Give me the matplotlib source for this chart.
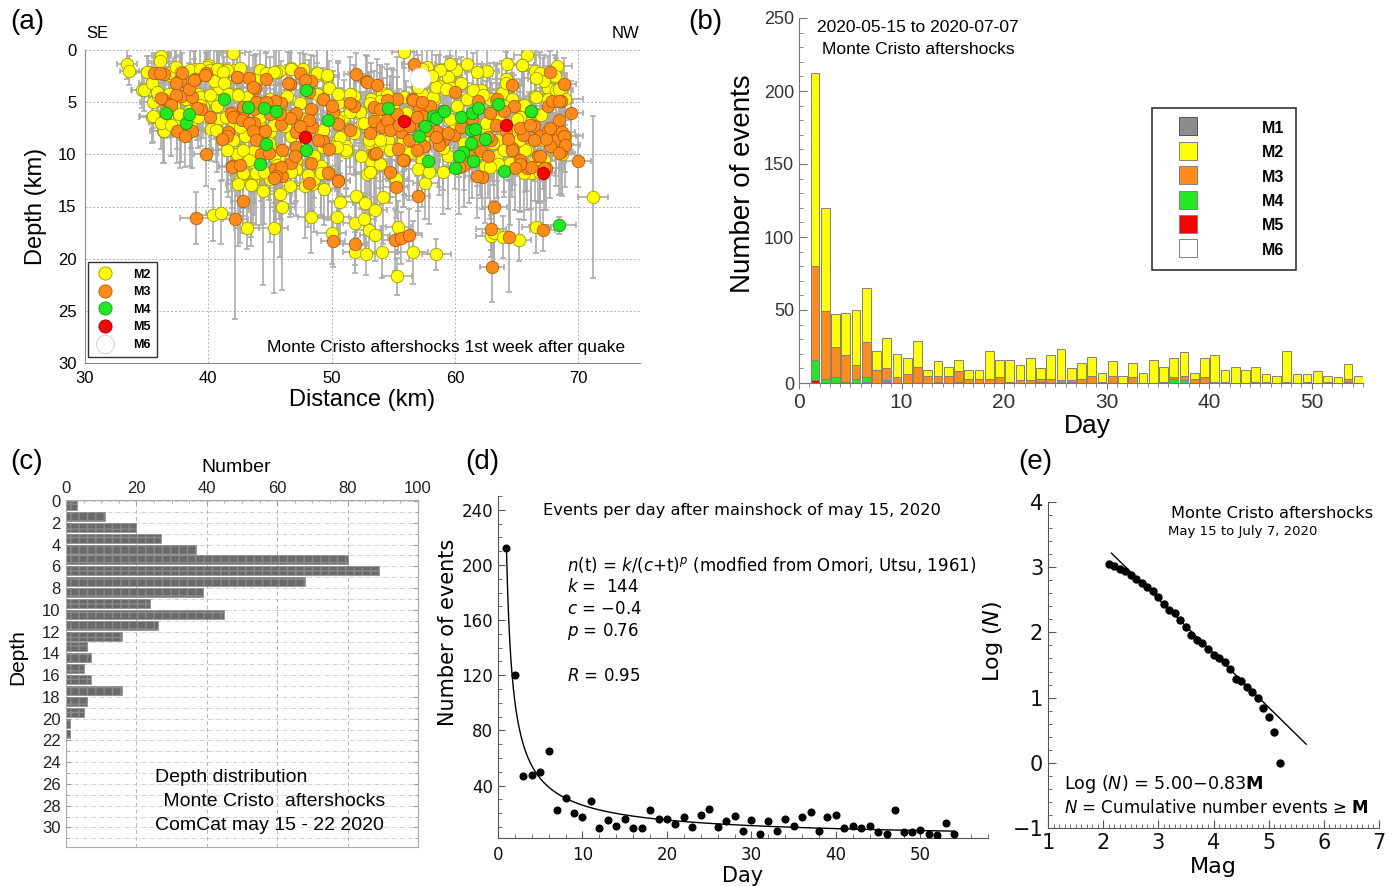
import numpy as np
import matplotlib
matplotlib.use('Agg')
import matplotlib.pyplot as plt
from matplotlib.lines import Line2D
from matplotlib.ticker import MultipleLocator

plt.rcParams['font.family'] = ['Liberation Sans', 'DejaVu Sans']

# ---------------- (a) cross-section: (distance km, depth km, xerr, yerr) ----------------
m2_pts = [
    (33.4, 1.3, 0.8, 1.5), (33.6, 2.0, 0.8, 1.4), (34.6, 3.8, 0.9, 1.8), (35.4, 6.4, 1.0, 2.5),
    (36.2, 0.6, 0.8, 1.2), (42.0, 0.3, 1.0, 1.5), (55.9, 0.2, 1.0, 1.5), (57.7, 1.6, 1.2, 2.0),
    (65.8, 0.5, 1.0, 1.5), (61.0, 1.3, 1.2, 2.5), (60.1, 1.9, 1.0, 3.0), (64.2, 1.3, 1.0, 2.0),
    (68.3, 1.5, 1.2, 2.0), (71.2, 14.1, 1.2, 7.8), (40.4, 15.8, 1.5, 2.5), (41.0, 15.6, 1.2, 3.0),
    (43.1, 17.1, 1.0, 2.0), (45.3, 17.1, 1.2, 6.2), (48.3, 16.0, 1.0, 3.5), (46.0, 15.0, 1.0, 8.0),
    (50.0, 17.5, 1.2, 3.0), (50.4, 16.0, 1.0, 2.5), (50.7, 14.6, 1.0, 4.0), (51.9, 16.6, 1.0, 2.0),
    (52.0, 14.0, 1.2, 4.0), (52.7, 14.7, 1.0, 5.0), (52.6, 16.2, 1.0, 2.5), (53.0, 17.3, 1.0, 2.0),
    (53.5, 17.7, 1.2, 2.5), (53.5, 15.3, 1.0, 3.0), (51.9, 19.4, 1.0, 2.0), (52.8, 19.6, 1.2, 2.0),
    (54.1, 19.4, 1.2, 2.5), (56.6, 19.4, 1.2, 3.0), (55.3, 21.7, 1.2, 1.8), (55.4, 17.0, 1.0, 2.5),
    (58.5, 19.6, 1.2, 1.5), (54.2, 14.1, 1.0, 4.5), (62.9, 17.8, 1.2, 2.0), (63.2, 17.5, 1.0, 3.0),
    (63.9, 17.9, 1.2, 2.0), (65.2, 18.2, 1.0, 2.0), (66.6, 17.0, 1.2, 2.5), (57.6, 12.7, 1.0, 3.5),
    (55.2, 12.4, 1.0, 3.0), (49.4, 13.3, 1.2, 3.5), (48.4, 12.8, 1.0, 3.0), (44.4, 13.5, 1.0, 9.0),
    (43.6, 12.6, 1.2, 4.0), (42.6, 12.5, 1.0, 6.0), (42.8, 11.9, 1.0, 4.0), (47.8, 13.0, 1.2, 5.0),
    (46.6, 13.0, 1.0, 3.0), (45.8, 13.8, 1.0, 6.0),
    (36.1, 1.05, 1.0, 1.5), (37.3, 2.0, 1.2, 2.0), (38.9, 1.85, 1.0, 2.5), (40.0, 1.4, 1.5, 1.5),
    (40.9, 1.85, 1.0, 2.0), (42.1, 1.95, 1.0, 3.0), (42.6, 1.7, 1.5, 2.0), (44.2, 1.95, 1.0, 2.5),
    (45.7, 2.0, 1.2, 2.0), (46.7, 1.7, 1.0, 3.0), (47.7, 1.85, 1.0, 2.5), (48.6, 2.55, 1.5, 2.0),
    (49.6, 2.55, 1.0, 3.5), (57.3, 1.85, 1.0, 2.5), (58.7, 3.45, 1.0, 3.0), (59.4, 2.55, 1.2, 2.0),
    (62.6, 2.0, 1.0, 2.5), (64.1, 2.8, 1.5, 3.0), (65.4, 1.45, 1.0, 2.0), (66.5, 2.0, 1.0, 2.5),
    (67.1, 2.8, 1.2, 2.0), (67.5, 3.6, 1.0, 3.0), (68.1, 2.5, 1.0, 2.0), (68.6, 3.8, 1.0, 2.5),
    (34.8, 3.8, 1.0, 2.0), (35.5, 5.0, 1.0, 2.5), (35.9, 4.4, 1.0, 2.0), (36.8, 4.25, 1.2, 3.0),
    (37.2, 5.4, 1.0, 2.0), (38.2, 4.7, 1.0, 3.0), (39.2, 4.25, 1.5, 2.5), (39.6, 5.4, 1.0, 3.0),
    (40.4, 4.7, 1.0, 2.0), (40.9, 3.6, 1.2, 3.5), (42.3, 4.25, 1.0, 2.5), (43.3, 4.7, 1.0, 3.0),
    (44.0, 5.05, 1.2, 2.0), (45.0, 4.7, 1.0, 4.0), (46.4, 4.4, 1.5, 3.0), (47.4, 5.05, 1.0, 2.5),
    (48.8, 4.25, 1.0, 3.0), (49.8, 3.6, 1.2, 2.5), (50.5, 5.05, 1.0, 4.0), (51.8, 4.4, 1.0, 3.0),
    (53.2, 4.7, 1.5, 3.5), (54.1, 4.1, 1.0, 2.5), (54.9, 4.7, 1.0, 3.0), (55.9, 4.55, 1.2, 4.0),
    (57.3, 4.25, 1.0, 3.0), (58.3, 4.7, 1.0, 2.5), (59.7, 3.6, 1.5, 3.0), (60.2, 5.4, 1.0, 4.5),
    (61.0, 4.7, 1.0, 3.0), (62.1, 3.8, 1.2, 2.5), (62.8, 4.7, 1.0, 3.5), (63.8, 4.1, 1.0, 3.0),
    (64.6, 4.7, 1.5, 2.5), (65.5, 5.4, 1.0, 4.0), (66.5, 4.4, 1.0, 3.0), (67.5, 4.7, 1.2, 2.5),
    (68.2, 3.8, 1.0, 3.0), (68.9, 4.7, 1.5, 2.5),
    (35.5, 6.3, 1.0, 2.5), (36.3, 7.8, 1.0, 3.0), (37.5, 7.0, 1.2, 2.5), (38.5, 7.6, 1.0, 3.5),
    (40.2, 7.6, 1.0, 3.0), (40.9, 6.6, 1.5, 2.5), (42.1, 7.0, 1.0, 4.0), (43.0, 8.2, 1.0, 3.0),
    (44.0, 7.3, 1.2, 3.5), (45.0, 7.9, 1.0, 4.5), (46.7, 8.2, 1.0, 3.0), (49.1, 7.8, 1.5, 4.0),
    (50.5, 8.6, 1.0, 3.0), (51.5, 7.9, 1.0, 4.0), (52.5, 7.0, 1.2, 3.0), (53.0, 8.9, 1.0, 5.0),
    (54.6, 8.6, 1.0, 4.0), (55.3, 7.6, 1.5, 3.0), (55.9, 8.9, 1.0, 5.0), (56.9, 8.6, 1.0, 3.5),
    (58.3, 8.1, 1.2, 4.0), (60.0, 7.3, 1.0, 3.0), (60.7, 8.9, 1.0, 4.5), (62.4, 7.4, 1.5, 3.0),
    (63.4, 8.6, 1.0, 4.0), (65.1, 7.9, 1.0, 3.5), (66.0, 7.0, 1.2, 3.0), (67.2, 8.6, 1.0, 4.0),
    (67.9, 7.6, 1.0, 3.0), (68.9, 8.2, 1.5, 3.5),
    (41.8, 9.5, 1.0, 4.0), (43.7, 9.7, 1.0, 5.0), (45.0, 9.2, 1.2, 4.0), (45.7, 10.2, 1.0, 6.0),
    (47.1, 10.5, 1.0, 4.0), (49.1, 11.1, 1.5, 5.0), (50.3, 9.2, 1.0, 4.0), (51.2, 9.8, 1.0, 3.5),
    (53.2, 10.6, 1.2, 5.0), (53.9, 9.2, 1.0, 4.0), (55.9, 9.5, 1.0, 3.5), (57.3, 10.5, 1.5, 4.5),
    (59.4, 10.2, 1.0, 5.0), (61.4, 10.2, 1.0, 4.0), (62.4, 11.1, 1.2, 5.5), (63.4, 10.2, 1.0, 4.0),
    (64.5, 10.8, 1.0, 6.0), (65.8, 9.5, 1.5, 4.0), (66.2, 11.8, 1.0, 5.0), (67.2, 10.5, 1.0, 4.0),
    (68.2, 9.5, 1.2, 3.5), (68.7, 10.0, 1.0, 4.0),
    (35.1, 2.1, 1.0, 1.5), (36.8, 2.4, 1.0, 2.0), (37.4, 1.9, 1.2, 2.0), (37.8, 2.2, 1.0, 2.5),
    (38.8, 2.1, 1.0, 2.0), (39.9, 1.6, 1.5, 2.5), (40.7, 2.1, 1.0, 2.0), (41.5, 1.9, 1.0, 2.5),
    (36.4, 7.8, 1.0, 3.0), (37.7, 7.8, 1.2, 3.5), (39.3, 4.5, 1.0, 3.0), (40.7, 7.7, 1.0, 4.0),
    (41.8, 8.5, 1.0, 3.5), (41.6, 9.6, 1.2, 4.5), (42.8, 10.1, 1.0, 5.0), (43.5, 12.8, 1.0, 6.0),
    (42.3, 10.0, 1.0, 4.0), (43.7, 10.8, 1.2, 5.0), (44.3, 11.8, 1.0, 5.0), (45.0, 12.4, 1.0, 6.0),
    (47.1, 11.4, 1.0, 4.5), (48.6, 12.4, 1.2, 5.0), (49.1, 11.8, 1.0, 4.0), (51.2, 9.2, 1.0, 4.0),
    (52.4, 10.2, 1.0, 5.0), (46.2, 6.3, 1.0, 3.0), (48.0, 6.6, 1.2, 3.0), (51.0, 6.4, 1.0, 3.5),
    (53.8, 6.0, 1.0, 3.0), (56.0, 6.0, 1.0, 3.0), (59.6, 6.6, 1.2, 3.5), (63.0, 6.2, 1.0, 3.0),
    (65.3, 6.4, 1.0, 3.0), (67.0, 6.2, 1.0, 3.0), (64.8, 8.9, 1.0, 4.0), (61.8, 9.0, 1.0, 4.0),
    (59.0, 9.4, 1.0, 4.0), (57.0, 11.4, 1.0, 4.0), (52.9, 11.9, 1.0, 4.0), (60.5, 3.2, 1.0, 2.5),
    (65.4, 1.4, 1.0, 2.0), (59.6, 1.3, 1.2, 2.5), (58.8, 1.9, 1.0, 3.0), (61.8, 2.1, 1.0, 2.5),
    (64.1, 3.2, 1.2, 3.0), (66.9, 2.2, 1.0, 2.0), (67.2, 3.0, 1.0, 2.5), (66.6, 2.7, 1.2, 3.0),
    (68.4, 3.7, 1.0, 2.5), (66.6, 4.5, 1.0, 3.0), (61.5, 3.8, 1.2, 3.5), (62.3, 4.3, 1.0, 3.0),
    (63.3, 4.8, 1.0, 3.5), (64.0, 5.4, 1.2, 3.0), (65.6, 5.3, 1.0, 3.5), (65.0, 6.6, 1.0, 3.0),
    (63.6, 6.7, 1.2, 3.5), (62.5, 7.0, 1.0, 4.0), (61.4, 7.7, 1.0, 3.5), (63.1, 8.9, 1.2, 4.0),
    (64.0, 9.6, 1.0, 4.5), (63.5, 10.9, 1.0, 4.0), (62.8, 11.2, 1.2, 5.0), (62.0, 9.9, 1.0, 4.0),
    (58.6, 8.0, 1.0, 3.5), (59.0, 11.7, 1.2, 4.0), (65.6, 11.8, 1.0, 4.5), (66.5, 10.5, 1.0, 4.0),
    (66.9, 11.8, 1.2, 5.0), (65.7, 9.6, 1.0, 4.0), (65.2, 8.6, 1.0, 3.5), (64.4, 7.7, 1.2, 4.0),
    (45.5, 2.1, 1.0, 2.5), (46.7, 1.8, 1.2, 2.0), (48.8, 2.2, 1.0, 2.5), (49.6, 2.4, 1.0, 3.0),
    (50.5, 4.2, 1.2, 3.0), (51.5, 4.2, 1.0, 3.5), (52.3, 5.9, 1.0, 3.0), (51.5, 5.9, 1.2, 3.5),
    (50.5, 6.7, 1.0, 3.0), (49.3, 7.7, 1.0, 4.0), (50.7, 8.3, 1.2, 3.5), (51.8, 8.0, 1.0, 4.0),
    (52.6, 7.0, 1.0, 3.0), (53.0, 8.6, 1.2, 4.0), (51.2, 9.6, 1.0, 4.5), (50.4, 9.3, 1.0, 4.0),
    (49.3, 9.3, 1.2, 3.5), (48.6, 10.2, 1.0, 4.0), (49.7, 11.7, 1.0, 4.5), (48.1, 12.0, 1.2, 5.0),
    (46.7, 11.7, 1.0, 4.0), (45.3, 10.2, 1.0, 4.5), (53.9, 8.6, 1.2, 4.0), (54.7, 9.6, 1.0, 4.5),
    (53.9, 10.9, 1.0, 4.0), (53.1, 11.7, 1.2, 5.0), (55.8, 8.6, 1.0, 4.0), (56.3, 9.9, 1.0, 4.5),
    (57.4, 8.6, 1.2, 4.0), (57.9, 11.7, 1.0, 5.0), (58.2, 4.5, 1.0, 3.0), (58.5, 3.5, 1.2, 3.0),
    (58.1, 2.5, 1.0, 2.5), (57.0, 3.5, 1.0, 3.0), (54.5, 4.3, 1.2, 3.0), (53.9, 4.9, 1.0, 3.5),
    (53.1, 5.1, 1.0, 3.0), (55.0, 5.4, 1.2, 3.5), (59.3, 3.7, 1.0, 3.0), (45.5, 6.4, 1.0, 3.0),
    (46.2, 7.3, 1.2, 3.5),
    (35.0, 2.1, 1.0, 1.5), (35.4, 3.2, 1.0, 2.0), (35.8, 4.0, 1.2, 2.0), (36.5, 5.9, 1.0, 2.5),
    (36.2, 7.0, 1.0, 2.5), (37.0, 7.2, 1.2, 3.0), (37.8, 7.7, 1.0, 3.0), (38.6, 6.9, 1.0, 2.5),
    (39.2, 6.4, 1.2, 3.0), (39.3, 5.3, 1.0, 2.5), (38.4, 5.8, 1.0, 3.0), (37.6, 6.1, 1.2, 2.5),
    (36.8, 2.2, 1.0, 2.0), (37.4, 1.6, 1.0, 2.0), (37.8, 2.1, 1.2, 2.5), (38.5, 1.9, 1.0, 2.0),
    (39.3, 1.8, 1.0, 2.5), (40.1, 1.9, 1.2, 2.0), (40.7, 1.8, 1.0, 2.5), (41.2, 2.1, 1.0, 2.0),
    (40.5, 3.0, 1.2, 3.0), (41.3, 3.2, 1.0, 2.5), (41.6, 4.2, 1.0, 3.0), (40.1, 4.3, 1.2, 2.5),
    (40.7, 5.4, 1.0, 3.0), (41.4, 6.4, 1.0, 3.5), (40.6, 7.7, 1.2, 3.0), (42.6, 7.4, 1.0, 3.5),
    (42.0, 8.6, 1.0, 4.0), (41.5, 9.6, 1.2, 4.0), (42.8, 9.6, 1.0, 4.5), (43.3, 10.5, 1.0, 5.0),
    (43.9, 11.8, 1.2, 5.0), (42.8, 11.8, 1.0, 5.5), (42.4, 12.8, 1.0, 6.0), (43.5, 12.9, 1.2, 5.0),
    (45.6, 11.0, 1.0, 4.5), (45.4, 11.8, 1.0, 5.0), (44.5, 11.7, 1.2, 5.0), (44.9, 8.9, 1.0, 4.0),
    (44.2, 7.4, 1.0, 3.5), (45.3, 7.2, 1.2, 3.5), (45.5, 5.8, 1.0, 3.0), (44.2, 6.4, 1.0, 3.0),
    (43.1, 4.5, 1.2, 3.0), (42.4, 4.3, 1.0, 2.5), (43.9, 2.9, 1.0, 2.5), (44.7, 2.2, 1.2, 2.0),
    (45.3, 2.1, 1.0, 2.5),
]

m3_pts = [
    (39.0, 16.1, 1.3, 2.5), (42.2, 16.2, 1.0, 9.6), (42.8, 14.5, 1.0, 3.0), (50.1, 18.3, 1.0, 2.5),
    (51.9, 18.6, 1.0, 2.0), (55.1, 18.2, 1.0, 3.0), (55.6, 18.0, 1.0, 2.5), (56.3, 17.7, 1.0, 2.5),
    (57.0, 14.0, 1.0, 3.5), (63.2, 15.0, 1.0, 6.0), (62.9, 17.2, 1.2, 2.0), (63.0, 20.8, 1.0, 3.4),
    (64.4, 17.9, 1.0, 5.3), (67.1, 17.3, 1.0, 2.0), (70.0, 10.6, 1.0, 2.5), (69.4, 6.0, 1.0, 3.0),
    (39.8, 10.0, 1.0, 3.0), (55.2, 13.1, 1.0, 3.0), (50.5, 12.5, 1.0, 3.5), (54.7, 11.7, 1.0, 3.0),
    (62.2, 12.2, 1.0, 3.0), (48.2, 12.7, 1.0, 3.0), (56.7, 1.3, 1.0, 2.0), (52.0, 2.3, 1.0, 2.0),
    (52.8, 3.0, 1.0, 2.5), (60.0, 4.0, 1.0, 3.0), (64.6, 3.4, 1.0, 2.5), (67.7, 2.1, 1.0, 2.0),
    (68.8, 3.3, 1.0, 2.5),
    (35.6, 2.25, 1.0, 2.0), (36.4, 2.3, 1.0, 2.0), (37.7, 3.0, 1.2, 2.5), (37.9, 2.25, 1.0, 2.0),
    (38.9, 2.8, 1.0, 3.0), (39.8, 2.25, 1.0, 2.0), (42.3, 2.55, 1.0, 2.5), (43.8, 3.6, 1.2, 3.0),
    (44.7, 2.8, 1.0, 2.5), (46.6, 3.3, 1.0, 3.0), (47.4, 2.25, 1.0, 2.0), (48.3, 3.0, 1.2, 2.5),
    (52.9, 3.05, 1.0, 2.5),
    (36.3, 4.7, 1.0, 2.5), (37.0, 5.2, 1.0, 3.0), (37.8, 4.4, 1.2, 2.5), (38.7, 4.55, 1.0, 3.0),
    (39.4, 5.7, 1.0, 3.5), (41.8, 6.0, 1.0, 3.0), (42.8, 5.5, 1.2, 3.0), (43.7, 5.7, 1.0, 3.5),
    (45.0, 5.4, 1.0, 3.0), (45.9, 5.05, 1.0, 4.0), (47.1, 6.0, 1.2, 3.0), (48.3, 5.7, 1.0, 3.5),
    (49.3, 4.7, 1.0, 3.0), (50.1, 6.0, 1.0, 4.0), (51.8, 5.4, 1.2, 3.0), (53.4, 5.5, 1.0, 3.5),
    (54.2, 5.7, 1.0, 3.0), (55.3, 4.7, 1.0, 4.0), (56.5, 4.7, 1.2, 3.0), (57.1, 5.5, 1.0, 3.5),
    (58.0, 5.4, 1.0, 3.0), (59.0, 5.85, 1.0, 4.0), (61.9, 4.9, 1.2, 3.0), (63.4, 4.7, 1.0, 3.5),
    (64.8, 5.4, 1.0, 3.0), (66.2, 5.85, 1.0, 4.0), (67.5, 5.4, 1.2, 3.0), (68.6, 4.9, 1.0, 3.5),
    (37.5, 7.8, 1.0, 3.0), (38.7, 7.8, 1.0, 3.5), (41.6, 7.9, 1.2, 3.0), (42.8, 6.5, 1.0, 3.5),
    (43.7, 7.0, 1.0, 3.0), (44.5, 7.8, 1.0, 4.0), (45.9, 7.1, 1.2, 3.0), (47.1, 7.9, 1.0, 3.5),
    (48.4, 7.4, 1.0, 3.0), (49.3, 8.7, 1.0, 4.0), (50.5, 7.1, 1.2, 3.0), (53.4, 6.8, 1.0, 3.5),
    (54.1, 7.4, 1.0, 3.0), (54.7, 6.5, 1.0, 4.0), (55.6, 7.9, 1.2, 3.0), (56.5, 7.1, 1.0, 3.5),
    (57.3, 6.3, 1.0, 3.0), (58.5, 7.8, 1.0, 4.0), (59.0, 8.6, 1.2, 3.0), (59.9, 8.1, 1.0, 3.5),
    (61.4, 6.6, 1.0, 3.0), (62.9, 8.6, 1.0, 4.0), (64.1, 7.8, 1.2, 3.0), (65.5, 8.1, 1.0, 3.5),
    (66.4, 7.3, 1.0, 3.0), (66.9, 8.2, 1.0, 4.0), (67.5, 7.8, 1.2, 3.0), (68.2, 8.6, 1.0, 3.5),
    (68.7, 7.9, 1.0, 3.0),
    (41.9, 11.1, 1.0, 4.0), (44.3, 10.0, 1.0, 4.5), (45.4, 11.4, 1.2, 4.0), (46.0, 12.1, 1.0, 5.0),
    (46.7, 10.8, 1.0, 4.0), (48.3, 10.8, 1.0, 4.5), (49.8, 9.5, 1.2, 4.0), (53.4, 10.0, 1.0, 5.0),
    (55.4, 9.5, 1.0, 4.0), (55.9, 10.5, 1.0, 4.5), (57.5, 9.2, 1.2, 4.0), (58.7, 8.9, 1.0, 5.0),
    (60.7, 11.0, 1.0, 4.0), (62.1, 9.7, 1.0, 4.5), (64.6, 9.4, 1.2, 4.0), (65.3, 10.5, 1.0, 5.0),
    (65.8, 11.3, 1.0, 4.0), (66.7, 10.2, 1.0, 4.5), (67.4, 11.3, 1.2, 4.0), (67.7, 9.2, 1.0, 5.0),
    (68.6, 9.8, 1.0, 4.0),
    (53.7, 3.4, 1.0, 2.5), (51.5, 5.1, 1.0, 3.0), (50.0, 5.4, 1.0, 3.0), (53.1, 8.0, 1.0, 3.5),
    (67.9, 4.9, 1.0, 3.0), (68.4, 4.9, 1.0, 3.0), (62.8, 6.0, 1.2, 3.5), (64.0, 5.8, 1.0, 3.0),
    (65.3, 7.5, 1.0, 3.5), (66.1, 7.2, 1.2, 3.0), (66.4, 8.6, 1.0, 4.0), (67.4, 8.5, 1.0, 3.5),
    (67.7, 7.5, 1.2, 3.0), (68.4, 6.7, 1.0, 3.0), (68.8, 8.2, 1.0, 3.5), (68.9, 9.1, 1.2, 4.0),
    (68.4, 9.9, 1.0, 4.0), (66.9, 10.2, 1.0, 4.5), (66.2, 11.2, 1.2, 4.0), (65.3, 10.9, 1.0, 4.5),
    (64.9, 11.3, 1.0, 4.0), (64.6, 9.6, 1.2, 4.5), (64.3, 8.5, 1.0, 4.0), (63.3, 7.2, 1.0, 3.5),
    (62.7, 8.3, 1.2, 4.0), (61.9, 8.6, 1.0, 4.0), (61.1, 10.2, 1.0, 4.5), (62.7, 10.2, 1.2, 4.0),
    (61.8, 12.1, 1.0, 4.0), (60.3, 11.2, 1.0, 4.5), (58.7, 9.1, 1.2, 4.0), (59.4, 8.0, 1.0, 3.5),
    (60.5, 7.4, 1.0, 3.5), (67.2, 11.3, 1.2, 4.0),
    (54.5, 4.8, 1.0, 3.0), (53.9, 5.7, 1.0, 3.5), (54.5, 6.7, 1.2, 3.0), (55.3, 6.1, 1.0, 3.5),
    (54.7, 7.7, 1.0, 4.0), (55.5, 7.2, 1.2, 3.5), (56.3, 7.3, 1.0, 3.0), (56.6, 4.8, 1.0, 3.5),
    (57.3, 5.0, 1.2, 3.0), (56.9, 6.4, 1.0, 3.5), (57.7, 7.7, 1.0, 4.0), (58.5, 8.3, 1.2, 3.5),
    (56.3, 8.6, 1.0, 4.0), (55.8, 10.5, 1.0, 4.5), (56.9, 9.6, 1.2, 4.0), (53.6, 9.9, 1.0, 4.5),
    (51.5, 7.7, 1.0, 3.5), (48.9, 8.6, 1.2, 4.0), (48.2, 6.7, 1.0, 3.5), (47.4, 7.3, 1.0, 3.5),
    (46.6, 6.5, 1.2, 3.0), (45.8, 6.1, 1.0, 3.5), (46.0, 9.6, 1.0, 4.5), (47.1, 9.3, 1.2, 4.0),
    (47.0, 10.2, 1.0, 4.5), (45.9, 11.2, 1.0, 5.0), (45.5, 12.1, 1.2, 5.0), (49.7, 11.8, 1.0, 4.5),
    (50.5, 12.6, 1.0, 5.0), (48.2, 4.0, 1.2, 3.0), (47.8, 2.9, 1.0, 2.5), (46.5, 3.2, 1.0, 3.0),
    (45.4, 4.9, 1.2, 3.0),
    (36.1, 2.2, 1.0, 2.0), (37.4, 3.2, 1.0, 2.5), (38.4, 3.7, 1.2, 2.5), (38.8, 2.9, 1.0, 2.0),
    (39.7, 2.4, 1.0, 2.5), (37.4, 4.3, 1.2, 2.5), (36.2, 4.6, 1.0, 2.5), (37.0, 5.3, 1.0, 3.0),
    (39.1, 5.6, 1.2, 3.0), (40.1, 6.4, 1.0, 3.5), (42.0, 6.4, 1.0, 3.0), (42.7, 6.7, 1.2, 3.5),
    (43.3, 7.0, 1.0, 3.0), (43.6, 7.8, 1.0, 3.5), (44.6, 7.8, 1.2, 4.0), (43.9, 5.0, 1.0, 3.0),
    (42.3, 2.6, 1.0, 2.5), (43.3, 2.7, 1.2, 2.5), (43.6, 3.5, 1.0, 3.0), (44.7, 5.0, 1.0, 3.0),
    (45.0, 6.1, 1.2, 3.5), (41.5, 8.2, 1.0, 3.5), (41.1, 8.5, 1.0, 4.0), (38.1, 8.2, 1.2, 3.0),
    (41.9, 11.2, 1.0, 4.5), (42.6, 11.0, 1.0, 4.5), (43.9, 8.6, 1.2, 4.0), (44.9, 9.9, 1.0, 4.5),
    (45.3, 12.3, 1.0, 5.0),
]

m4_pts = [
    (36.55, 6.0, 0.8, 1.5), (38.2, 7.0, 0.8, 1.5), (38.4, 6.1, 0.8, 1.5), (41.3, 4.7, 0.8, 1.5),
    (43.2, 5.5, 0.8, 1.5), (44.5, 5.6, 0.8, 2.0), (45.5, 5.8, 0.8, 1.5), (47.9, 3.8, 0.8, 1.5),
    (44.7, 9.0, 0.8, 2.0), (44.2, 10.9, 0.8, 2.0), (47.9, 9.6, 0.8, 2.0), (49.7, 6.7, 0.8, 1.5),
    (54.6, 5.6, 0.8, 1.5), (57.1, 8.2, 0.8, 2.0), (57.6, 7.3, 0.8, 1.5), (58.2, 6.3, 0.8, 1.5),
    (58.5, 6.5, 0.8, 1.5), (59.1, 5.8, 0.8, 1.5), (57.8, 10.6, 0.8, 2.0), (60.5, 6.4, 0.8, 1.5),
    (61.4, 6.0, 0.8, 1.5), (61.9, 5.6, 0.8, 1.5), (63.5, 5.2, 0.8, 1.5), (66.2, 5.8, 0.8, 1.5),
    (61.3, 7.7, 0.8, 1.5), (61.6, 7.6, 0.8, 1.5), (62.4, 8.5, 0.8, 2.0), (61.3, 8.9, 0.8, 2.0),
    (60.65, 9.8, 0.8, 2.0), (60.3, 10.2, 0.8, 2.0), (61.5, 10.6, 0.8, 2.0), (60.0, 11.3, 0.8, 2.0),
    (64.0, 11.6, 0.8, 2.0), (68.4, 16.8, 1.4, 0.8),
]

m5_pts = [
    (47.8, 8.3, 0.8, 1.5), (55.9, 6.8, 0.8, 1.5), (64.1, 7.2, 0.8, 1.5), (67.1, 11.8, 0.8, 1.5),
]

m6_pts = [(57.2, 2.7, 0.8, 1.5)]

# ---------------- (b) daily counts by magnitude class, days 1..54 ----------------
days = list(range(1, 55))
daily_m2 = [132, 71, 22, 29, 38, 37, 13, 21, 16, 11, 18, 4, 10, 6, 8, 6, 6, 19, 12, 15,
            10, 15, 7, 16, 21, 8, 11, 13, 6, 10, 5, 10, 7, 16, 10, 13, 16, 4, 13, 18,
            8, 11, 9, 10, 5, 5, 21, 6, 5, 8, 4, 4, 10, 5]
daily_m3 = [64, 46, 21, 18, 9, 24, 9, 8, 4, 6, 11, 5, 4, 5, 7, 3, 3, 3, 4, 1,
            2, 2, 2, 3, 1, 1, 3, 5, 1, 5, 0, 4, 0, 0, 1, 1, 3, 3, 4, 1,
            1, 0, 0, 1, 1, 0, 0, 0, 1, 0, 1, 0, 2, 0]
daily_m4 = [14, 3, 4, 1, 3, 3, 0, 1, 0, 0, 0, 0, 1, 0, 1, 0, 0, 0, 0, 0,
            0, 0, 1, 0, 1, 1, 0, 0, 0, 0, 0, 0, 0, 0, 0, 3, 2, 0, 0, 0,
            0, 0, 0, 0, 0, 0, 0, 0, 0, 0, 0, 0, 1, 0]
daily_m5 = [2, 0, 0, 0, 0, 1, 0, 1, 0, 0, 0, 0, 0, 0, 0, 0, 0, 0, 0, 0,
            0, 0, 0, 0, 0, 0, 0, 0, 0, 0, 0, 0, 0, 0, 0, 0, 0, 0, 0, 0,
            0, 0, 0, 0, 0, 0, 1, 0, 0, 0, 0, 0, 0, 0]

# ---------------- (c) depth histogram (1 km bins from 0 km) ----------------
depth_bins = list(range(0, 22))
depth_counts = [3, 11, 20, 27, 37, 80, 89, 68, 39, 24, 45, 26, 16, 6, 7, 5, 7, 16, 6, 5, 1, 1]

# ---------------- (d) Omori fit parameters ----------------
omori_k, omori_c, omori_p = 144, -0.4, 0.76

# ---------------- (e) Gutenberg-Richter ----------------
gr_mag = [2.1, 2.2, 2.3, 2.4, 2.5, 2.6, 2.7, 2.8, 2.9, 3.0, 3.1, 3.2, 3.3, 3.4, 3.5, 3.6,
          3.7, 3.8, 3.9, 4.0, 4.1, 4.2, 4.3, 4.4, 4.5, 4.6, 4.7, 4.8, 4.9, 5.0, 5.1, 5.2]
gr_logn = [3.05, 3.02, 2.98, 2.94, 2.88, 2.82, 2.76, 2.70, 2.63, 2.54, 2.44, 2.35, 2.30, 2.19,
           2.09, 1.96, 1.89, 1.84, 1.74, 1.66, 1.60, 1.55, 1.44, 1.29, 1.26, 1.17, 1.09, 1.00,
           0.84, 0.70, 0.47, 0.00]
gr_a, gr_b = 5.00, 0.83
gr_fit_range = (2.15, 5.68)

# colours
C_M2, C_M3, C_M4, C_M5 = '#ffff00', '#ff8c1a', '#22e822', '#ff0000'
E_M2, E_M3, E_M4, E_M5 = '#a09a00', '#b35c00', '#119911', '#990000'

W, H = 1392, 886
fig = plt.figure(figsize=(W / 100, H / 100), dpi=100)


def rect(x0, y0, x1, y1):
    return [x0 / W, 1 - y1 / H, (x1 - x0) / W, (y1 - y0) / H]


def ftext(x, y, s, **kw):
    fig.text(x / W, 1 - y / H, s, **kw)

# ================= (a) =================
axa = fig.add_axes(rect(85, 50, 640, 363))
groups = [(m2_pts, C_M2, E_M2), (m3_pts, C_M3, E_M3), (m4_pts, C_M4, E_M4), (m5_pts, C_M5, E_M5)]
for pts, fc, ec in groups:
    arr = np.array(pts)
    axa.errorbar(arr[:, 0], arr[:, 1], xerr=arr[:, 2], yerr=arr[:, 3], fmt='none',
                 ecolor='#ababab', elinewidth=1.2, capsize=2.5, capthick=1.2, zorder=1)
for i, (pts, fc, ec) in enumerate(groups):
    arr = np.array(pts)
    axa.scatter(arr[:, 0], arr[:, 1], s=80, c=fc, edgecolors=ec, linewidths=0.6, zorder=3 + i)
arr6 = np.array(m6_pts)
axa.scatter(arr6[:, 0], arr6[:, 1], s=220, c='white', edgecolors='#dddddd', linewidths=0.6, zorder=8)
axa.set_xlim(30, 75)
axa.set_ylim(30, 0)
axa.xaxis.set_major_locator(MultipleLocator(10))
axa.yaxis.set_major_locator(MultipleLocator(5))
axa.grid(True, linestyle=(0, (2, 2)), color='#b0b0b0', linewidth=0.7, zorder=0)
axa.set_axisbelow(True)
for sp in ['top', 'right']:
    axa.spines[sp].set_visible(False)
for sp in ['left', 'bottom']:
    axa.spines[sp].set_color('#888888')
axa.tick_params(labelsize=12, length=0, pad=6)
axa.set_xlabel('Distance (km)', fontsize=17, labelpad=2)
axa.set_ylabel('Depth (km)', fontsize=17, labelpad=8)
axa.text(0.973, 0.051, 'Monte Cristo aftershocks 1st week after quake', transform=axa.transAxes,
         ha='right', va='center', fontsize=12.5)
leg_h = [Line2D([], [], marker='o', ls='none', ms=9.5, mfc=C_M2, mec=E_M2, mew=0.6),
         Line2D([], [], marker='o', ls='none', ms=9.5, mfc=C_M3, mec=E_M3, mew=0.6),
         Line2D([], [], marker='o', ls='none', ms=9.5, mfc=C_M4, mec=E_M4, mew=0.6),
         Line2D([], [], marker='o', ls='none', ms=9.5, mfc=C_M5, mec=E_M5, mew=0.6),
         Line2D([], [], marker='o', ls='none', ms=13, mfc='white', mec='#cccccc', mew=0.6)]
lga = axa.legend(leg_h, ['M2', 'M3', 'M4', 'M5', 'M6'], loc='lower left', bbox_to_anchor=(0.005, 0.018),
                 prop={'weight': 'bold', 'size': 9}, frameon=True, fancybox=False,
                 edgecolor='black', labelspacing=0.45, handletextpad=1.3, borderpad=0.5,
                 handlelength=1.8, borderaxespad=0)
lga.get_frame().set_linewidth(1.0)
ftext(10, 22, '(a)', fontsize=20, va='center')
ftext(86, 34, 'SE', fontsize=12, va='center')
ftext(612, 34, 'NW', fontsize=12, va='center')

# ================= (b) =================
axb = fig.add_axes(rect(799, 18, 1363, 383))
x_b = np.array(days) + 0.55
bottoms = np.zeros(len(days))
for vals, col in [(daily_m5, C_M5), (daily_m4, C_M4), (daily_m3, C_M3), (daily_m2, C_M2)]:
    v = np.array(vals)
    axb.bar(x_b, v, width=0.85, bottom=bottoms, color=col, edgecolor='#808080', linewidth=0.7, zorder=2)
    bottoms = bottoms + v
axb.set_xlim(0, 55)
axb.set_ylim(0, 250)
axb.xaxis.set_major_locator(MultipleLocator(10))
axb.xaxis.set_minor_locator(MultipleLocator(1))
axb.yaxis.set_major_locator(MultipleLocator(50))
axb.yaxis.set_minor_locator(MultipleLocator(10))
for sp in ['top', 'right']:
    axb.spines[sp].set_visible(False)
for sp in ['left', 'bottom']:
    axb.spines[sp].set_color('#777777')
axb.tick_params(axis='y', which='both', direction='in', colors='#777777', labelcolor='#333333', labelsize=13)
axb.tick_params(axis='y', which='major', length=6)
axb.tick_params(axis='y', which='minor', length=3)
axb.tick_params(axis='x', which='both', direction='out', colors='#777777', labelcolor='#333333', labelsize=15)
axb.tick_params(axis='x', which='major', length=4)
axb.tick_params(axis='x', which='minor', length=3)
axb.set_xlabel('Day', fontsize=19, labelpad=0)
axb.xaxis.set_label_coords(0.511, -0.085)
axb.set_ylabel('Number of events', fontsize=20, labelpad=4)
axb.yaxis.set_label_coords(-0.077, 0.545)
sq = dict(marker='s', ls='none', ms=13, mew=0.7)
lb_h = [Line2D([], [], mfc='#8c8c8c', mec='#555555', **sq),
        Line2D([], [], mfc=C_M2, mec='#808080', **sq),
        Line2D([], [], mfc=C_M3, mec='#808080', **sq),
        Line2D([], [], mfc=C_M4, mec='#808080', **sq),
        Line2D([], [], mfc=C_M5, mec='#808080', **sq),
        Line2D([], [], mfc='white', mec='#808080', **sq)]
lgb = axb.legend(lb_h, ['M1', 'M2', 'M3', 'M4', 'M5', 'M6'], loc='upper left',
                 bbox_to_anchor=(0.626, 0.753), prop={'weight': 'bold', 'size': 11.5},
                 frameon=True, fancybox=False, edgecolor='black', handlelength=3.0, handleheight=1.0,
                 handletextpad=3.1, labelspacing=0.55, borderpad=0.75, borderaxespad=0)
lgb.get_frame().set_linewidth(1.2)
ftext(817, 28, '2020-05-15 to 2020-07-07', fontsize=12.5, va='center')
ftext(822, 49, 'Monte Cristo aftershocks', fontsize=12.5, va='center')
ftext(688, 22, '(b)', fontsize=20, va='center')

# ================= (c) =================
axc = fig.add_axes(rect(66, 500, 418, 847))
axc.barh(np.array(depth_bins), depth_counts, height=0.82, align='edge', color='#6a6a6a',
         edgecolor='#8a8a8a', linewidth=0.4, hatch='++', zorder=2)
axc.set_xlim(0, 100)
axc.set_ylim(31.8, -0.1)
axc.xaxis.tick_top()
axc.xaxis.set_label_position('top')
axc.xaxis.set_major_locator(MultipleLocator(20))
axc.xaxis.set_minor_locator(MultipleLocator(5))
axc.yaxis.set_major_locator(MultipleLocator(2))
axc.yaxis.set_minor_locator(MultipleLocator(1))
axc.grid(True, axis='x', which='major', linestyle=(0, (4, 3)), color='#b5b5b5', linewidth=0.7, zorder=0)
axc.grid(True, axis='y', which='both', linestyle=(0, (5, 2, 1, 2)), color='#c8c8c8', linewidth=0.6, zorder=0)
for sp in axc.spines.values():
    sp.set_color('#aaaaaa')
    sp.set_linewidth(0.8)
axc.tick_params(axis='x', which='both', direction='in', colors='#999999', labelcolor='#222222',
                labelsize=12, top=True, bottom=False, pad=3)
axc.tick_params(axis='y', which='both', direction='in', colors='#999999', labelcolor='#222222',
                labelsize=12, left=True, right=True, pad=4)
for tk in axc.yaxis.get_major_ticks() + axc.yaxis.get_minor_ticks():
    tk.tick2line.set_color('#e07070')
axc.set_xlabel('Number', fontsize=14, labelpad=4)
axc.xaxis.set_label_coords(0.483, 1.08)
axc.set_ylabel('Depth', fontsize=15, labelpad=4)
axc.yaxis.set_label_coords(-0.11, 0.548)
ftext(155, 778, 'Depth distribution', fontsize=14, va='center')
ftext(158, 802, ' Monte Cristo  aftershocks', fontsize=14, va='center')
ftext(155, 826, 'ComCat may 15 - 22 2020', fontsize=14, va='center')
ftext(10, 462, '(c)', fontsize=20, va='center')

# ================= (d) =================
fam_d = ['DejaVu Sans']
axd = fig.add_axes(rect(498, 496, 988, 838))
daily_total = (np.array(daily_m2) + np.array(daily_m3) + np.array(daily_m4) + np.array(daily_m5))
axd.plot(days, daily_total, 'o', color='black', ms=4.8, zorder=3)
t = np.linspace(1.0, 54, 400)
axd.plot(t, omori_k / (omori_c + t) ** omori_p, color='black', lw=1.0, zorder=2)
axd.set_xlim(0, 58)
axd.set_ylim(2, 250)
axd.xaxis.set_major_locator(MultipleLocator(10))
axd.xaxis.set_minor_locator(MultipleLocator(2))
axd.yaxis.set_major_locator(MultipleLocator(40))
axd.yaxis.set_minor_locator(MultipleLocator(10))
for sp in ['top', 'right']:
    axd.spines[sp].set_visible(False)
for sp in ['left', 'bottom']:
    axd.spines[sp].set_color('#555555')
axd.tick_params(which='both', direction='in', colors='#555555', labelcolor='#111111', labelsize=12)
axd.tick_params(which='major', length=5)
axd.tick_params(which='minor', length=3)
axd.tick_params(axis='x', pad=6)
for lab in axd.get_xticklabels() + axd.get_yticklabels():
    lab.set_family(fam_d)
axd.set_xlabel('Day', fontsize=15, labelpad=1, family=fam_d)
axd.set_ylabel('Number of events', fontsize=15, labelpad=2, family=fam_d)
axd.yaxis.set_label_coords(-0.082, 0.6)
ftext(543, 510, 'Events per day after mainshock of may 15, 2020', fontsize=11.7, va='center', family=fam_d)
yy = [565, 587, 609, 631, 676]
txts = [r'$n$(t) = $k$/($c$+t)$^p$ (modfied from Omori, Utsu, 1961)', r'$k$ =  144',
        r'$c$ = $-$0.4', r'$p$ = 0.76', r'$R$ = 0.95']
for y, s in zip(yy, txts):
    ftext(567, y, s, fontsize=12, va='center', family=fam_d)
ftext(465, 462, '(d)', fontsize=20, va='center')

# ================= (e) =================
axe = fig.add_axes(rect(1048, 502, 1379, 828))
axe.plot(gr_mag, gr_logn, 'o', color='black', ms=5, zorder=3)
mfit = np.array(gr_fit_range)
axe.plot(mfit, gr_a - gr_b * mfit, color='black', lw=1.0)
axe.set_xlim(1, 7)
axe.set_ylim(-1, 4)
axe.xaxis.set_major_locator(MultipleLocator(1))
axe.xaxis.set_minor_locator(MultipleLocator(0.1))
axe.yaxis.set_major_locator(MultipleLocator(1))
axe.yaxis.set_minor_locator(MultipleLocator(0.2))
for sp in ['top', 'right']:
    axe.spines[sp].set_visible(False)
for sp in ['left', 'bottom']:
    axe.spines[sp].set_color('#555555')
axe.tick_params(which='both', direction='in', colors='#555555', labelcolor='#111111', labelsize=15)
axe.tick_params(which='major', length=6)
axe.tick_params(which='minor', length=3)
for lab in axe.get_xticklabels() + axe.get_yticklabels():
    lab.set_family(fam_d)
axe.set_xlabel('Mag', fontsize=16, labelpad=3, family=fam_d)
axe.set_ylabel(r'Log ($N$)', fontsize=16, labelpad=4, family=fam_d)
axe.yaxis.set_label_coords(-0.13, 0.574)
ftext(1272, 513, 'Monte Cristo aftershocks', fontsize=11.7, ha='center', va='center', family=fam_d)
ftext(1243, 532, 'May 15 to July 7, 2020', fontsize=9.5, ha='center', va='center', family=fam_d)
ftext(1064, 784, r'Log ($N$) = 5.00$-$0.83$\mathbf{M}$', fontsize=12.6, va='center', family=fam_d)
ftext(1064, 808, r'$N$ = Cumulative number events ≥ $\mathbf{M}$', fontsize=12, va='center', family=fam_d)
ftext(1018, 462, '(e)', fontsize=20, va='center')

fig.savefig('out.png', dpi=100)
